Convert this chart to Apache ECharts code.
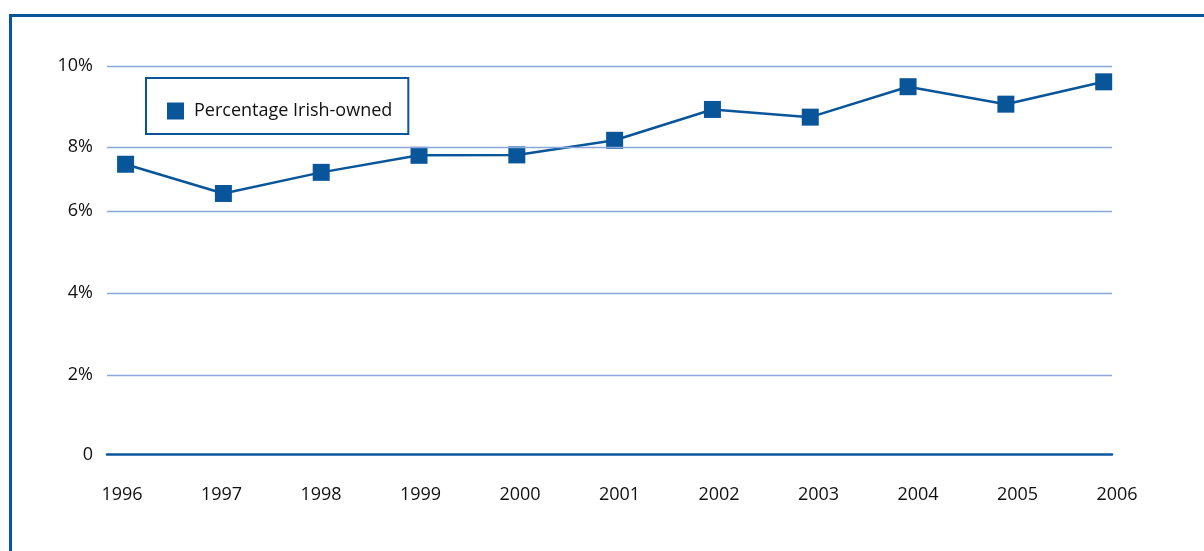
<!DOCTYPE html>
<html>
<head>
<meta charset="utf-8">
<script src="https://cdn.jsdelivr.net/npm/echarts@6/dist/echarts.min.js"></script>
<style>
  html, body { margin: 0; padding: 0; background: #ffffff; }
  #chart { width: 1204px; height: 551px; }
</style>
</head>
<body>
<div id="chart"></div>
<script>
// ---- Data ----
const years = [1996, 1997, 1998, 1999, 2000, 2001, 2002, 2003, 2004, 2005, 2006];
const yearLabels = ['1996', '1997', '1998', '1999', '2000', '2001', '2002', '2003', '2004', '2005', '2006'];
const percentIrishOwned = [7.15, 6.43, 6.95, 7.37, 7.38, 7.74, 8.50, 8.31, 9.06, 8.63, 9.18];
// positions of the labelled gridlines on that scale, and their labels
const tickValues = [0, 1.96, 3.98, 6.0, 7.58, 9.57];
const tickLabels = ['0', '2%', '4%', '6%', '8%', '10%'];
const seriesName = 'Percentage Irish-owned';

const BLUE = '#08559a';
const GRID_BLUE = '#8aa8dc';
const TEXT = '#111111';
const FONT = 'Open Sans';

const chart = echarts.init(document.getElementById('chart'), null, { renderer: 'canvas' });

const option = {
  backgroundColor: '#ffffff',
  animation: false,
  textStyle: { fontFamily: FONT },
  graphic: [{
    type: 'rect',
    shape: { x: 10.5, y: 15.5, width: 1400, height: 800 },
    style: { fill: 'none', stroke: BLUE, lineWidth: 3 },
    silent: true
  }],
  legend: {
    data: [seriesName],
    left: 146,
    top: 78,
    orient: 'horizontal',
    backgroundColor: '#ffffff',
    borderColor: BLUE,
    borderWidth: 2,
    borderRadius: 0,
    padding: [24, 16, 14, 21],
    itemWidth: 17,
    itemHeight: 17,
    icon: 'rect',
    selectedMode: false,
    textStyle: { fontFamily: FONT, fontSize: 18, color: TEXT, padding: [0, 0, 0, 5] }
  },
  grid: [
    { left: 107, right: 92, top: 66, bottom: 96.5, containLabel: false },
    { left: 122, right: 87, top: 66, bottom: 96.5, containLabel: false }
  ],
  xAxis: [
    {
      type: 'value',
      gridIndex: 0,
      min: 1995.81,
      max: 2006.085,
      axisLine: { show: true, onZero: false, lineStyle: { color: BLUE, width: 2.5 } },
      axisTick: { show: false },
      axisLabel: { show: false },
      splitLine: { show: false }
    },
    {
      type: 'category',
      gridIndex: 1,
      data: yearLabels,
      boundaryGap: false,
      axisLine: { show: false },
      axisTick: { show: false },
      splitLine: { show: false },
      axisLabel: { show: true, interval: 0, margin: 31, fontFamily: FONT, fontSize: 18, color: TEXT }
    }
  ],
  yAxis: [
    {
      type: 'value',
      gridIndex: 0,
      min: 0,
      max: 9.57,
      axisLine: { show: false },
      axisTick: { show: false },
      splitLine: { show: false },
      axisLabel: {
        show: true,
        customValues: tickValues,
        margin: 14,
        fontFamily: FONT,
        fontSize: 18,
        color: TEXT,
        formatter: function (v) {
          let best = 0, bd = Infinity;
          tickValues.forEach(function (t, i) {
            const d = Math.abs(t - v);
            if (d < bd) { bd = d; best = i; }
          });
          return tickLabels[best];
        }
      }
    },
    {
      type: 'value',
      gridIndex: 1,
      min: 0,
      max: 9.57,
      show: false
    }
  ],
  series: [
    {
      name: 'gridlines',
      type: 'line',
      xAxisIndex: 0,
      yAxisIndex: 0,
      data: [],
      z: 1,
      silent: true,
      markLine: {
        silent: true,
        symbol: ['none', 'none'],
        label: { show: false },
        lineStyle: { color: GRID_BLUE, width: 1.3, type: 'solid' },
        data: tickValues.filter(function (v) { return v > 0; }).map(function (v) { return { yAxis: v }; })
      }
    },
    {
      name: seriesName,
      type: 'line',
      xAxisIndex: 0,
      yAxisIndex: 0,
      z: 3,
      data: years.map(function (y, i) { return [y, percentIrishOwned[i]]; }),
      symbol: 'rect',
      symbolSize: 17,
      showAllSymbol: true,
      lineStyle: { color: BLUE, width: 2.5 },
      itemStyle: { color: BLUE, borderWidth: 0 }
    }
  ]
};

chart.setOption(option);
</script>
</body>
</html>
